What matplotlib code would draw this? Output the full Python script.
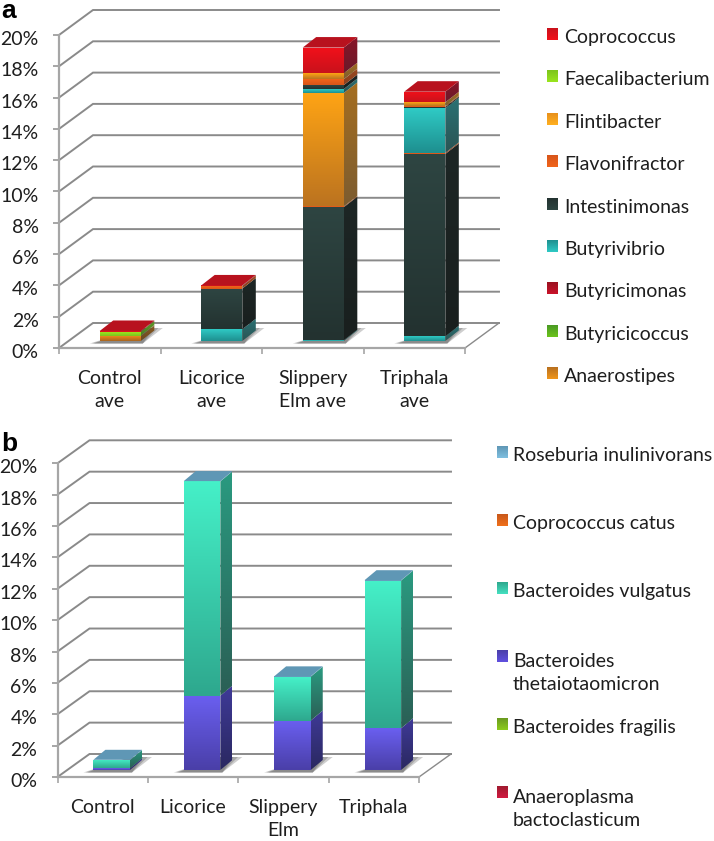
import numpy as np
import matplotlib
matplotlib.use('Agg')
import matplotlib.pyplot as plt
from matplotlib.colors import to_rgb
from matplotlib.patches import Polygon
from matplotlib.transforms import ScaledTranslation

plt.rcParams['font.family'] = ['Lato', 'DejaVu Sans']

W, H = 714, 841

# panel a : values in percent, one per treatment
cats_a = ['Control\nave', 'Licorice\nave', 'Slippery\nElm ave', 'Triphala\nave']
anaerostipes = [0.30, 0, 0, 0]
butyrivibrio = [0, 0.75, 0.05, 0.30]
intestinimonas = [0.02, 2.60, 8.50, 11.65]
flavonifractor = [0, 0.17, 0.05, 0.07]
flintibacter = [0.03, 0, 7.25, 0]
butyrivibrio_2 = [0, 0, 0.25, 2.85]
intestinimonas_2 = [0, 0, 0.25, 0.08]
flavonifractor_2 = [0, 0, 0.38, 0.05]
flintibacter_2 = [0, 0, 0.38, 0.25]
faecalibacterium = [0.25, 0, 0, 0]
coprococcus = [0.04, 0.03, 1.64, 0.68]

# panel b
cats_b = ['Control', 'Licorice', 'Slippery\nElm', 'Triphala']
thetaiotaomicron = [0.10, 4.74, 3.15, 2.66]
vulgatus = [0.53, 13.66, 2.80, 9.42]
roseburia = [0.02, 0.02, 0.02, 0.02]

yticks = [0, 2, 4, 6, 8, 10, 12, 14, 16, 18, 20]
ylabels = ['0%', '2%', '4%', '6%', '8%', '10%', '12%', '14%', '16%', '18%', '20%']

legend_a = ['Coprococcus', 'Faecalibacterium', 'Flintibacter', 'Flavonifractor',
            'Intestinimonas', 'Butyrivibrio', 'Butyricimonas', 'Butyricicoccus',
            'Anaerostipes']
legend_b = ['Roseburia inulinivorans', 'Coprococcus catus', 'Bacteroides vulgatus',
            'Bacteroides\nthetaiotaomicron', 'Bacteroides fragilis',
            'Anaeroplasma\nbactoclasticum']

# front top, front bottom, side top, side bottom, top face
RED = ('#f2101a', '#c9121c', '#8a1428', '#6a1a2a', '#b8121e')
GREEN = ('#9ae51e', '#7cc41c', '#5f9a25', '#4a7a25', '#7cc41c')
AMBER = ('#ffa414', '#bb7320', '#a56e20', '#7c5c30', '#d08a18')
FLAV = ('#f0641a', '#d8551a', '#9a4a20', '#8a4020', '#e0581a')
DARK = ('#2e4542', '#233230', '#1d2625', '#191f1e', '#2e4542')
TEAL = ('#2fcac5', '#1e8f8f', '#2a7274', '#2a5454', '#2fcac5')
ANAE = ('#e9891c', '#a8651f', '#8a5a20', '#6a4a20', '#c87a1c')
VULG = ('#45f0c8', '#2ea88e', '#2a9a80', '#2a5f55', '#45f0c8')
PURP = ('#6a5ff0', '#4a3fa8', '#3f3a98', '#2a2860', '#6a5ff0')
ROSE = ('#6fa8c8', '#5f97b5', '#5f97b5', '#5f97b5', '#5f97b5')

stack_a = [(anaerostipes, ANAE), (butyrivibrio, TEAL), (intestinimonas, DARK),
           (flavonifractor, FLAV), (flintibacter, AMBER), (butyrivibrio_2, TEAL),
           (intestinimonas_2, DARK), (flavonifractor_2, FLAV), (flintibacter_2, AMBER),
           (faecalibacterium, GREEN), (coprococcus, RED)]
stack_b = [(thetaiotaomicron, PURP), (vulgatus, VULG), (roseburia, ROSE)]

swatch_a = [('#f2101a', '#c9121c'), ('#9ae51e', '#7cc41c'), ('#ffb020', '#e8901c'),
            ('#f0641a', '#d8551a'), ('#2e4542', '#233230'), ('#2fcac5', '#1e8f8f'),
            ('#c9122a', '#9a1220'), ('#6cc41c', '#4a9a25'), ('#f0961c', '#b8701f')]
swatch_b = [('#7fbfe0', '#5f97b5'), ('#f0701a', '#c8581a'), ('#45e0c0', '#2ea88e'),
            ('#6050e0', '#4a3fa8'), ('#8ccc1c', '#6a9a20'), ('#d01a40', '#a01a30')]

FS = 14
TXT = '#1e1e1e'


def grad_poly(ax, verts, top, bot, z):
    # vertical colour ramp clipped to a polygon
    verts = np.array(verts, dtype=float)
    ramp = np.linspace(np.array(to_rgb(top)), np.array(to_rgb(bot)), 64)[:, None, :]
    ext = [verts[:, 0].min(), verts[:, 0].max(), verts[:, 1].min(), verts[:, 1].max()]
    im = ax.imshow(ramp, extent=ext, aspect='auto', origin='upper',
                   interpolation='bilinear', zorder=z)
    clip = Polygon(verts, closed=True, transform=ax.transData)
    im.set_clip_path(clip)


def draw_panel(ax, cats, stack, x0, x1, y0, y20, back_dx, back_dy, bar_dx, bar_dy, dep_x, dep_y):
    px_x = (x1 - x0) / 4
    px_y = (y0 - y20) / 20
    dx = back_dx / px_x
    dy = back_dy / px_y
    ax.set_position([x0 / W, 1 - y0 / H, (x1 + back_dx + 4 - x0) / W, (y0 - 6) / H])
    xlim = (-0.5, -0.5 + (x1 + back_dx + 4 - x0) / px_x)
    ylim = (0, (y0 - 6) / px_y)

    # walls and floor lines
    gc = '#8a8a8a'
    for v in yticks:
        ax.plot([-0.5, -0.5 + dx, 3.5 + dx], [v, v + dy, v + dy], color=gc, lw=1.4,
                zorder=1, solid_joinstyle='miter')
    ax.plot([3.5, 3.5 + dx], [0, dy], color=gc, lw=1.0, zorder=1)

    off_x = bar_dx / px_x
    off_y = bar_dy / px_y
    w = 0.405
    ddx = dep_x / px_x
    ddy = dep_y / px_y
    for i in range(4):
        left = i + off_x - w / 2
        right = left + w
        # shadow on the floor
        low = off_y - 2.5 / px_y
        high = off_y + 13 / px_y
        for grow, a in [(1.0, 0.28), (0.8, 0.30), (0.6, 0.32)]:
            ax.add_patch(Polygon([(left - 10 * grow / px_x, low),
                                  (right + 2 / px_x, low),
                                  (right + 22 * grow / px_x, high),
                                  (right, high)],
                                 closed=True, fc='#505050', ec='none', alpha=a, zorder=2))
        bottom = off_y
        for vals, col in stack:
            h = vals[i]
            if h <= 0:
                continue
            top = bottom + h
            grad_poly(ax, [(left, bottom), (right, bottom), (right, top), (left, top)],
                      col[0], col[1], 4)
            grad_poly(ax, [(right, bottom), (right + ddx, bottom + ddy),
                           (right + ddx, top + ddy), (right, top)], col[2], col[3], 3)
            bottom = top
        ax.add_patch(Polygon([(left, bottom), (right, bottom), (right + ddx, bottom + ddy),
                              (left + ddx, bottom + ddy)], closed=True, fc=col[4], ec='none',
                             zorder=5))

    ax.set_xlim(*xlim)
    ax.set_ylim(*ylim)
    ax.patch.set_alpha(0)
    for s in ['top', 'right']:
        ax.spines[s].set_visible(False)
    for s in ['left', 'bottom']:
        ax.spines[s].set_color('#a6a6a6')
        ax.spines[s].set_linewidth(1.6)
    ax.spines['left'].set_bounds(0, 20)
    ax.spines['bottom'].set_bounds(-0.5, 3.5)

    ax.set_yticks(yticks, ylabels)
    ax.set_xticks([-0.5, 0.5, 1.5, 2.5, 3.5], [])
    ax.set_xticks([0, 1, 2, 3], cats, minor=True)
    ax.tick_params(axis='y', length=4.5, width=1.4, color='#a6a6a6', pad=10, labelsize=FS,
                   labelcolor=TXT)
    ax.tick_params(axis='x', which='major', length=4.5, width=1.2, color='#a6a6a6')
    ax.tick_params(axis='x', which='minor', length=0, pad=16, labelsize=FS, labelcolor=TXT)
    for lab in ax.get_xticklabels(minor=True):
        lab.set_linespacing(1.41)
    shift = ScaledTranslation(0, -3 / 100, ax.figure.dpi_scale_trans)
    for lab in ax.get_yticklabels():
        lab.set_transform(lab.get_transform() + shift)


fig = plt.figure(figsize=(W / 100, H / 100), dpi=100)
ax_a = fig.add_axes([0, 0, 1, 1])
ax_b = fig.add_axes([0, 0, 1, 1])
draw_panel(ax_a, cats_a, stack_a, 59, 465, 348, 35, 34, 25, 10.5, 7, 13.5, 10.5)
draw_panel(ax_b, cats_b, stack_b, 57.5, 419, 777, 463.3, 32, 23, 9, 7, 12, 10)

# legends and panel letters in pixel coordinates
ov = fig.add_axes([0, 0, 1, 1])
ov.axis('off')
for i, name in enumerate(legend_a):
    y = 34 + i * 42.4
    grad_poly(ov, [(547, y - 6), (558, y - 6), (558, y + 6), (547, y + 6)],
              swatch_a[i][0], swatch_a[i][1], 3)
    ov.text(564, y + 9, name, fontsize=FS, color=TXT, va='baseline')
for i, name in enumerate(legend_b):
    y = 452 + i * 68
    grad_poly(ov, [(497, y - 6), (508, y - 6), (508, y + 6), (497, y + 6)],
              swatch_b[i][0], swatch_b[i][1], 3)
    # baseline of a two line label is that of its last line
    ov.text(513, y + 8.5 + 25 * name.count('\n'), name, fontsize=FS, color=TXT,
            va='baseline', linespacing=1.41)
ov.text(1.5, 18, 'a', fontsize=19, fontweight='bold', family='Liberation Sans', va='baseline')
ov.text(1.5, 451, 'b', fontsize=19, fontweight='bold', family='Liberation Sans', va='baseline')
ov.set_xlim(0, W)
ov.set_ylim(H, 0)

fig.savefig('out.png', dpi=100)
